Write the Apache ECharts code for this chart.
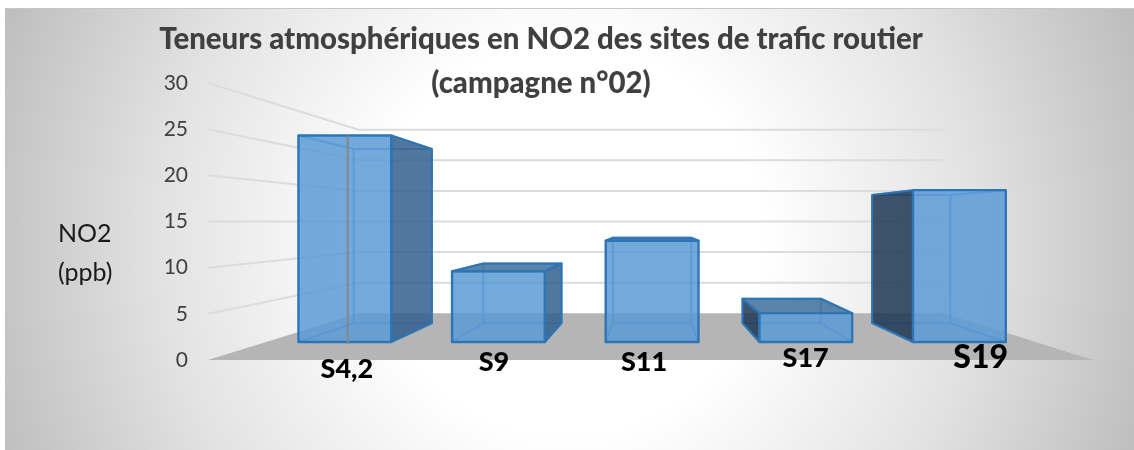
<!DOCTYPE html>
<html><head><meta charset="utf-8">
<style>html,body{margin:0;padding:0;background:#fff}#c{width:1134px;height:450px}</style>
<script src="https://cdn.jsdelivr.net/npm/echarts@6/dist/echarts.min.js"></script>
</head><body><div id="c"></div>
<script>
const categories = ['S4,2', 'S9', 'S11', 'S17', 'S19'];
const no2Values = [25.7, 8.8, 12.6, 3.6, 18.9];
const yTicks = [0, 5, 10, 15, 20, 25, 30];
const titleText = 'Teneurs atmosphériques en NO2 des sites de trafic routier\n(campagne n°02)';
const axisName = 'NO2\n(ppb)';

// perspective layout
const S_BAR_FRONT = 0.87, S_BAR_BACK = 0.734, S_WALL = 0.663, BAR_HALF = 0.302, BAR_SHIFT = 0.004;
const labelDx = [48.5, 19, -7.5, -22.5, -24], labelDy = [9.5, 2.5, 2, -2, -2.5], labelSize = [27, 27, 27, 27, 32];

const chart = echarts.init(document.getElementById('c'), null, {renderer: 'canvas'});

function projector(api) {
  const vx = api.coord([2, 0])[0], vy = api.coord([0, 15])[1];
  return function (xc, v, s) {
    const p = api.coord([0, v]);
    return [vx + (xc - vx) * s, vy + (p[1] - vy) * s];
  };
}
function wallItem(params, api) {
  const v = api.value(1), P = projector(api);
  const xL = api.coord([0, 0])[0] - api.size([1, 0])[0] / 2;
  const xR = api.coord([4, 0])[0] + api.size([1, 0])[0] / 2;
  const kids = [];
  if (v === 0) {
    const a = P(xL, 0, 1), b = P(xR, 0, 1), c = P(xR, 0, S_WALL), d = P(xL, 0, S_WALL);
    kids.push({type: 'polygon', shape: {points: [[a[0] - 2, a[1]], b, c, d]}, style: {fill: '#b5b5b5'}});
  } else {
    const a = P(xL, v, 1), d = P(xL, v, S_WALL), c = P(xR, v, S_WALL);
    kids.push({type: 'polyline', shape: {points: [[a[0] - 2, a[1]], d, c]},
      style: {stroke: '#dcdcdc', lineWidth: 2, fill: null}});
  }
  return {type: 'group', children: kids};
}
function barItem(params, api) {
  const i = api.value(0), v = api.value(1), P = projector(api);
  const band = api.size([1, 0])[0], c = api.coord([i, 0])[0], vx = api.coord([2, 0])[0];
  const xl = c + band * (BAR_SHIFT - BAR_HALF), xr = c + band * (BAR_SHIFT + BAR_HALF);
  const f = [P(xl, 0, S_BAR_FRONT), P(xr, 0, S_BAR_FRONT), P(xr, v, S_BAR_FRONT), P(xl, v, S_BAR_FRONT)];
  const b = [P(xl, 0, S_BAR_BACK), P(xr, 0, S_BAR_BACK), P(xr, v, S_BAR_BACK), P(xl, v, S_BAR_BACK)];
  const edge = '#2e75b6', inner = 'rgba(84,150,215,0.75)';
  const face = (pts, fill, stroke, w) => ({type: 'polygon', shape: {points: pts},
    style: {fill: fill, stroke: stroke, lineWidth: w, lineJoin: 'round'}});
  const seg = (p, q) => ({type: 'line', shape: {x1: p[0], y1: p[1], x2: q[0], y2: q[1]},
    style: {stroke: inner, lineWidth: 2}});
  const kids = [];
  kids.push(face(f, 'rgba(91,155,213,0.85)', null, 0));
  // far edges seen through the front
  kids.push(seg(b[0], b[1]), seg(b[1], b[2]), seg(b[2], b[3]), seg(b[3], b[0]));
  kids.push(seg(f[0], b[0]), seg(f[1], b[1]), seg(f[2], b[2]), seg(f[3], b[3]));
  // visible outer faces
  if (xr < vx) kids.push(face([f[1], b[1], b[2], f[2]], 'rgba(52,95,141,0.85)', edge, 2));
  if (xl > vx) kids.push(face([f[0], b[0], b[3], f[3]], 'rgba(29,55,85,0.85)', edge, 2));
  if (f[3][1] > b[3][1]) kids.push(face([f[3], f[2], b[2], b[3]], 'rgba(62,111,156,0.85)', edge, 2));
  kids.push(face(f, null, edge, 2.4));
  return {type: 'group', children: kids};
}
function labelItem(params, api) {
  const i = api.value(0), p = api.coord([i, 0]);
  return {type: 'text', style: {text: categories[i], x: p[0] + labelDx[i], y: p[1] + labelDy[i],
    fill: '#000', font: '900 ' + labelSize[i] + 'px Lato', textAlign: 'center', textVerticalAlign: 'middle'}};
}
function strokeItem(params, api) {
  const i = api.value(0), v = api.value(1), P = projector(api);
  const x = api.coord([i, 0])[0] + 4;
  const a = P(x, v, S_BAR_FRONT), b = P(x, -0.2, S_BAR_FRONT);
  return {type: 'line', shape: {x1: a[0], y1: a[1], x2: b[0], y2: b[1]}, style: {stroke: '#868686', lineWidth: 2}};
}

const barData = categories.map((c, i) => [i, no2Values[i]]);

chart.setOption({
  animation: false,
  backgroundColor: '#fff',
  graphic: [
    {type: 'rect', z: -10, silent: true, shape: {x: 5, y: 8, width: 1129, height: 442},
      style: {fill: new echarts.graphic.RadialGradient(567, 240, 610, [
        {offset: 0, color: '#ffffff'}, {offset: 0.32, color: '#ffffff'}, {offset: 0.67, color: '#e2e2e2'}, {offset: 1, color: '#bdbdbd'}
      ], true)}},
    {type: 'line', z: -9, silent: true, shape: {x1: 5, y1: 8.5, x2: 1134, y2: 8.5}, style: {stroke: '#c6c6c6', lineWidth: 1}},
    {type: 'text', z: 5, silent: true, x: 58, y: 214, style: {text: axisName, fill: '#1a1a1a', font: '25px Lato', lineHeight: 39, textAlign: 'left', textVerticalAlign: 'top'}}
  ],
  title: {text: titleText, left: 536, top: 13, textAlign: 'center',
    textStyle: {fontFamily: 'Lato', fontWeight: 900, fontSize: 29.4, color: '#404040', lineHeight: 44}},
  grid: {left: 210, right: 41, top: 83, bottom: 90},
  xAxis: {type: 'category', data: categories, axisLine: {show: false}, axisTick: {show: false}, axisLabel: {show: false}, splitLine: {show: false}},
  yAxis: {type: 'value', min: 0, max: 30, interval: 5,
    axisLine: {show: false}, axisTick: {show: false}, splitLine: {show: false},
    axisLabel: {margin: 22, fontFamily: 'Lato', fontSize: 21, color: '#404040', padding: [5, 0, 0, 0]}},
  series: [
    {type: 'custom', name: 'walls', silent: true, clip: false, data: yTicks.map(t => [0, t]), encode: {x: 0, y: 1}, renderItem: wallItem, z: 1},
    {type: 'custom', name: 'NO2', silent: true, clip: false, data: barData, encode: {x: 0, y: 1}, renderItem: barItem, z: 2},
    {type: 'custom', name: 'stroke', silent: true, clip: false, data: [barData[0]], encode: {x: 0, y: 1}, renderItem: strokeItem, z: 3},
    {type: 'custom', name: 'labels', silent: true, clip: false, data: barData, encode: {x: 0, y: 1}, renderItem: labelItem, z: 4}
  ]
});
</script></body></html>
